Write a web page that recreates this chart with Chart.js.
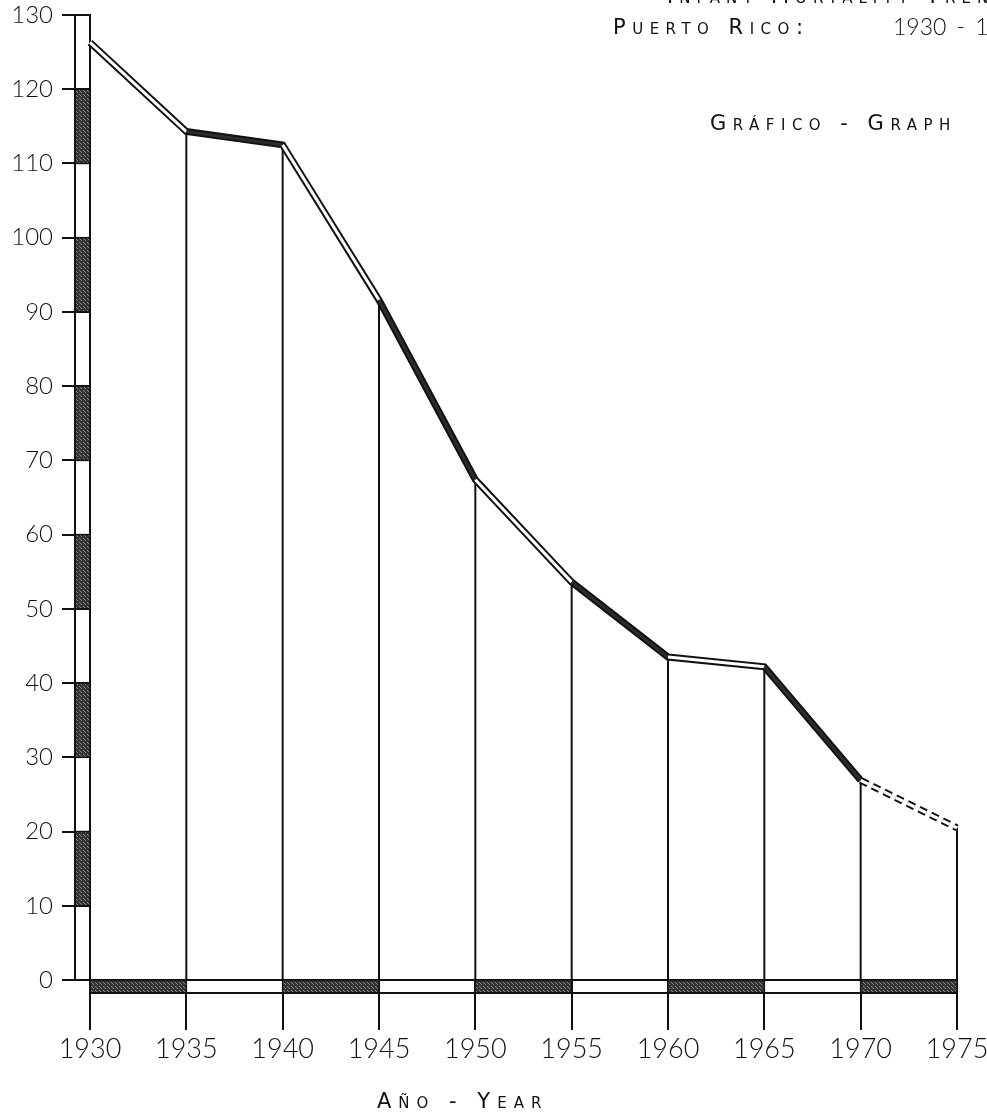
<!DOCTYPE html>
<html>
<head>
<meta charset="utf-8">
<script src="https://cdn.jsdelivr.net/npm/chart.js@4.4.1/dist/chart.umd.min.js"></script>
<style>
    html, body { margin: 0; padding: 0; background: #fff; overflow: hidden; }
    #wrap { position: relative; width: 987px; height: 1117px; overflow: hidden; }
    .lbl {
        position: absolute;
        white-space: nowrap;
        font-family: "DejaVu Sans", sans-serif;
        font-variant: small-caps;
        color: #111;
    }
</style>
</head>
<body>
<div id="wrap">
    <canvas id="mortalityChart" width="987" height="1117"></canvas>
    <div class="lbl" style="left:667px; top:-16px; font-size:21px; letter-spacing:6px;">Infant Mortality Trend</div>
    <div class="lbl" style="left:613px; top:15px; font-size:21px; letter-spacing:6.5px;">Puerto Rico:</div>
    <div class="lbl" style="left:893px; top:12px; font-family:Lato, sans-serif; font-size:23px; font-weight:300; word-spacing:4px;">1930 - 1975</div>
    <div class="lbl" style="left:710px; top:111px; font-size:21px; letter-spacing:6.5px;">Gráfico - Graph</div>
    <div class="lbl" style="left:377px; top:1089px; font-size:21px; letter-spacing:7px;">Año - Year</div>
</div>
<script>
    // Data
    const years = [1930, 1935, 1940, 1945, 1950, 1955, 1960, 1965, 1970, 1975];
    const rates = [126.3, 114.3, 112.5, 91.6, 67.4, 53.6, 43.5, 42.2, 26.9, 20.5];
    const yTicks = [0, 10, 20, 30, 40, 50, 60, 70, 80, 90, 100, 110, 120, 130];

    const ink = '#111';

    // stippled grey used for the shaded blocks of the axes
    function makeStipple() {
        const c = document.createElement('canvas');
        c.width = 4;
        c.height = 4;
        const g = c.getContext('2d');
        g.fillStyle = '#333';
        g.fillRect(0, 0, 4, 4);
        g.fillStyle = '#8a8a8a';
        g.fillRect(1, 0, 1, 1);
        g.fillRect(3, 2, 1, 1);
        g.fillRect(0, 3, 1, 1);
        return g.createPattern(c, 'repeat');
    }
    const stipple = makeStipple();

    // vertical drop lines from each point down to the axis
    const dropLines = {
        id: 'dropLines',
        beforeDatasetsDraw(chart) {
            const { ctx, chartArea: a, scales: { x, y } } = chart;
            ctx.save();
            ctx.strokeStyle = ink;
            ctx.lineWidth = 2;
            years.forEach((yr, i) => {
                const px = x.getPixelForValue(yr);
                ctx.beginPath();
                ctx.moveTo(px, y.getPixelForValue(rates[i]));
                ctx.lineTo(px, a.bottom);
                ctx.stroke();
            });
            ctx.restore();
        }
    };

    // the banded double-line axes
    const axisBars = {
        id: 'axisBars',
        afterDraw(chart) {
            const { ctx, chartArea: a, scales: { x, y } } = chart;
            const colW = 15;
            const rowH = 13;
            ctx.save();
            ctx.strokeStyle = ink;
            ctx.lineWidth = 1.5;

            // y column
            for (let i = 0; i < yTicks.length - 1; i++) {
                if (i % 2 === 1) {
                    const t = y.getPixelForValue(yTicks[i + 1]);
                    const b = y.getPixelForValue(yTicks[i]);
                    ctx.fillStyle = stipple;
                    ctx.fillRect(a.left - colW, t, colW, b - t);
                    ctx.strokeRect(a.left - colW, t, colW, b - t);
                }
            }
            ctx.lineWidth = 2;
            ctx.beginPath();
            ctx.moveTo(a.left - colW, y.getPixelForValue(yTicks[yTicks.length - 1]));
            ctx.lineTo(a.left - colW, a.bottom);
            ctx.stroke();

            // x row
            ctx.lineWidth = 1.5;
            for (let i = 0; i < years.length - 1; i++) {
                if (i % 2 === 0) {
                    const l = x.getPixelForValue(years[i]);
                    const r = x.getPixelForValue(years[i + 1]);
                    ctx.fillStyle = stipple;
                    ctx.fillRect(l, a.bottom, r - l, rowH);
                    ctx.strokeRect(l, a.bottom, r - l, rowH);
                }
            }
            ctx.lineWidth = 2;
            ctx.beginPath();
            ctx.moveTo(a.left, a.bottom + rowH);
            ctx.lineTo(a.right, a.bottom + rowH);
            ctx.stroke();
            ctx.restore();
        }
    };

    const points = years.map((yr, i) => ({ x: yr, y: rates[i] }));

    const shaded = ctx => ctx.p0DataIndex % 2 === 1 && ctx.p0DataIndex < years.length - 2;
    const dashed = ctx => ctx.p0DataIndex === years.length - 2 ? [8, 5] : undefined;

    new Chart(document.getElementById('mortalityChart'), {
        type: 'line',
        data: {
            datasets: [{
                // inner stroke of the double line
                data: points,
                borderColor: '#fff',
                borderWidth: 3,
                pointRadius: 0,
                tension: 0,
                clip: false,
                order: 1,
                segment: {
                    borderColor: ctx => shaded(ctx) ? '#2c2c2c' : '#fff',
                    borderDash: dashed
                }
            }, {
                // outer stroke
                data: points,
                borderColor: ink,
                borderWidth: 7,
                pointRadius: 0,
                tension: 0,
                clip: false,
                order: 2,
                segment: {
                    borderDash: dashed
                }
            }]
        },
        options: {
            responsive: false,
            animation: false,
            devicePixelRatio: 1,
            layout: {
                padding: { top: 15, right: 30, left: 0, bottom: 0 }
            },
            plugins: {
                legend: { display: false },
                tooltip: { enabled: false }
            },
            scales: {
                x: {
                    type: 'linear',
                    min: years[0],
                    max: years[years.length - 1],
                    afterBuildTicks: s => { s.ticks = years.map(v => ({ value: v })); },
                    afterFit: s => { s.height = 137; s.paddingLeft = 0; s.paddingRight = 0; },
                    grid: { drawOnChartArea: false, tickLength: 50, color: ink, lineWidth: 2 },
                    border: { color: ink, width: 2 },
                    ticks: {
                        autoSkip: false,
                        maxRotation: 0,
                        padding: 3,
                        color: ink,
                        font: { family: 'Lato', size: 27, weight: 300 },
                        callback: v => String(v)
                    }
                },
                y: {
                    type: 'linear',
                    min: 0,
                    max: 130,
                    afterBuildTicks: s => { s.ticks = yTicks.map(v => ({ value: v })); },
                    afterFit: s => { s.width = 90; s.paddingTop = 0; s.paddingBottom = 0; },
                    grid: { drawOnChartArea: false, tickLength: 28, color: ink, lineWidth: 2 },
                    border: { color: ink, width: 2 },
                    ticks: {
                        padding: 9,
                        color: ink,
                        font: { family: 'Lato', size: 24, weight: 300 },
                        callback: v => String(v)
                    }
                }
            }
        },
        plugins: [dropLines, axisBars]
    });
</script>
</body>
</html>
